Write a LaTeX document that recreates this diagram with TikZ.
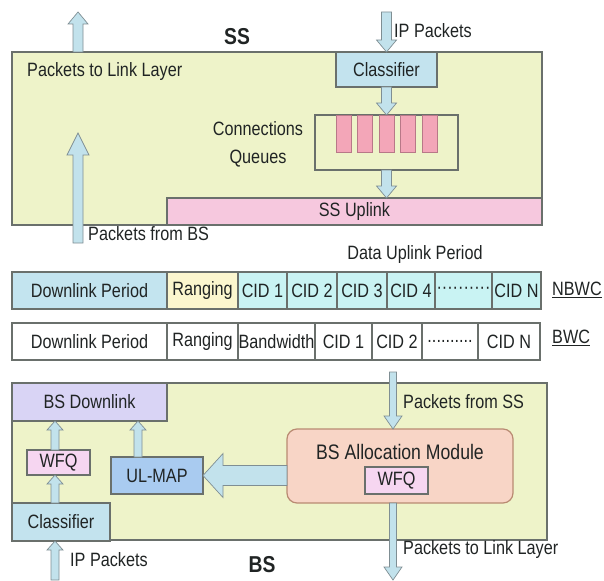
\documentclass[tikz,border=0pt]{standalone}
\usepackage{fontspec}
\setmainfont{Liberation Sans}[FakeStretch=0.84]
\usetikzlibrary{calc}
\definecolor{panel}{HTML}{EEF3C9}
\definecolor{edge}{HTML}{6A706C}
\definecolor{clsblue}{HTML}{C3E3EE}
\definecolor{barpink}{HTML}{F3A6B8}
\definecolor{baredge}{HTML}{B87888}
\definecolor{uppink}{HTML}{F6C8DE}
\definecolor{dlblue}{HTML}{C3E4EF}
\definecolor{rangy}{HTML}{FBF6CE}
\definecolor{cidcyan}{HTML}{C9F3F3}
\definecolor{lav}{HTML}{D9D4F5}
\definecolor{wfqpink}{HTML}{F6D6F1}
\definecolor{ulblue}{HTML}{A9CBF0}
\definecolor{alloc}{HTML}{F8D5C6}
\definecolor{allocedge}{HTML}{B98A72}
\definecolor{arrfill}{HTML}{C2E2EC}
\definecolor{arredge}{HTML}{7F8E93}
\definecolor{txt}{HTML}{202424}
\newcommand\fs{\fontsize{19.3}{22}\selectfont}
\newcommand\bigfs{\fontsize{23}{25}\selectfont\bfseries}
\begin{document}
\begin{tikzpicture}[x=1pt,y=-1pt,font=\fs,text=txt,
  box/.style={draw=edge,line width=1.2pt,inner sep=0pt,outer sep=0pt,anchor=north west},
  lbl/.style={inner sep=0pt,anchor=west},
  fatarr/.style n args={3}{draw=arredge,fill=arrfill,line width=0.7pt,
    to path={
      ($(\tikztostart)!#1!90:(\tikztotarget)$) --
      ($(\tikztotarget)!#3!(\tikztostart)!#1!90:(\tikztotarget)$) --
      ($(\tikztotarget)!#3!(\tikztostart)!#2!90:(\tikztotarget)$) --
      (\tikztotarget) --
      ($(\tikztotarget)!#3!(\tikztostart)!#2!-90:(\tikztotarget)$) --
      ($(\tikztotarget)!#3!(\tikztostart)!#1!-90:(\tikztotarget)$) --
      ($(\tikztostart)!#1!-90:(\tikztotarget)$) -- cycle}},
  arrA/.style={fatarr={5pt}{10pt}{12pt}},
  arrB/.style={fatarr={4pt}{8pt}{9pt}},
  arrC/.style={fatarr={3.5pt}{9pt}{13pt}}]
\useasboundingbox (0,0) rectangle (604,580);

% ---------------- SS panel ----------------
\node[box,fill=panel,minimum width=530,minimum height=173] (ss) at (12,52) {};
\node[box,fill=uppink,minimum width=375,minimum height=27] (ssup) at (167,198) {SS Uplink};
\node[box,fill=clsblue,minimum width=101,minimum height=35] (cls) at (336,52) {Classifier};
\node[box,fill=panel,minimum width=143,minimum height=55] (q) at (315,115) {};
\foreach \i/\x in {1/336,2/357,3/379,4/400,5/422}
  \node[box,draw=baredge,line width=0.8pt,fill=barpink,minimum width=15,minimum height=37] (bar\i) at (\x,115) {};
\node[align=center,inner sep=0pt,font=\fontsize{19.3}{28}\selectfont] (cqt) at (258,144) {Connections\\Queues};
\node[font=\bigfs,inner sep=0pt] (sst) at (237,37) {SS};
\node[lbl] (ipt) at (394,31) {IP Packets};
\node[lbl] (ptl) at (27,72) {Packets to Link Layer};
\node[lbl] (pfb) at (88,234) {Packets from BS};

\coordinate (a1s) at (78,52);
\coordinate (a1e) at (78,12);
\coordinate (a2s) at (78,243);
\coordinate (a2e) at (78,133);
\coordinate (a3s) at (386.5,12);
\coordinate (a5e) at (q.south |- ssup.north);
\draw[arrA] (a1s) to (a1e);
\draw[fatarr={5pt}{11pt}{22pt}] (a2s) to (a2e);
\draw[arrA] (a3s) to (cls.north);
\draw[arrA] (cls.south) to (q.north);
\draw[arrA] (q.south) to (a5e);

% ---------------- frame rows ----------------
\node[inner sep=0pt] (dup) at (415,255) {Data Uplink Period};
\node[box,fill=dlblue,minimum width=155,minimum height=37] (n1) at (12,272) {Downlink Period};
\node[box,fill=rangy,minimum width=71,minimum height=37] (n2) at (167,272) {Ranging};
\node[box,fill=cidcyan,minimum width=49,minimum height=37] (n3) at (238,272) {CID 1};
\node[box,fill=cidcyan,minimum width=50,minimum height=37] (n4) at (287,272) {CID 2};
\node[box,fill=cidcyan,minimum width=50,minimum height=37] (n5) at (337,272) {CID 3};
\node[box,fill=cidcyan,minimum width=48,minimum height=37] (n6) at (387,272) {CID 4};
\node[box,fill=cidcyan,minimum width=57,minimum height=37] (n7) at (435,272) {··········};
\node[box,fill=cidcyan,minimum width=49,minimum height=37] (n8) at (492,272) {CID N};
\node[lbl] (nbwc) at (552,290) {\underline{NBWC}};

\node[box,fill=white,minimum width=155,minimum height=37] (b1) at (12,323) {Downlink Period};
\node[box,fill=white,minimum width=71,minimum height=37] (b2) at (167,323) {Ranging};
\node[box,fill=white,minimum width=77,minimum height=37] (b3) at (238,323) {Bandwidth};
\node[box,fill=white,minimum width=57,minimum height=37] (b4) at (315,323) {CID 1};
\node[box,fill=white,minimum width=50,minimum height=37] (b5) at (372,323) {CID 2};
\node[box,fill=white,minimum width=56,minimum height=37] (b6) at (422,323) {..........};
\node[box,fill=white,minimum width=62,minimum height=37] (b7) at (478,323) {CID N};
\node[lbl] (bwc) at (552,338) {\underline{BWC}};

% ---------------- BS panel ----------------
\node[box,fill=panel,minimum width=535,minimum height=157] (bs) at (12,383) {};
\node[box,fill=lav,minimum width=155,minimum height=38] (bsdl) at (12,383) {BS Downlink};
\node[box,fill=wfqpink,minimum width=63,minimum height=25] (wfq) at (27,450) {WFQ};
\node[box,fill=ulblue,minimum width=92,minimum height=37] (ulmap) at (111,457) {UL-MAP};
\node[box,fill=clsblue,minimum width=98,minimum height=38] (cls2) at (12,503) {Classifier};
\node[box,draw=allocedge,fill=alloc,rounded corners=10pt,minimum width=226,minimum height=74] (alloc) at (287,429) {};
\node[inner sep=0pt,font=\fontsize{21}{24}\selectfont] (allt) at (400,452) {BS Allocation Module};
\node[box,fill=wfqpink,minimum width=63,minimum height=27] (wfq2) at (365,467) {WFQ};
\node[lbl] (pfs) at (403,402) {Packets from SS};
\node[lbl] (ptl2) at (403,550) {Packets to Link Layer};
\node[lbl] (ipt2) at (70,560) {IP Packets};
\node[font=\bigfs,inner sep=0pt] (bst) at (262,565) {BS};

\coordinate (a6s) at (393,372);
\coordinate (a6e) at (393,429);
\coordinate (a7s) at (393,503);
\coordinate (a7e) at (393,580);
\coordinate (a8s) at (55,503);
\coordinate (a8e) at (55,475);
\coordinate (a9s) at (55,450);
\coordinate (a9e) at (55,421);
\coordinate (a10s) at (138,457);
\coordinate (a10e) at (138,421);
\coordinate (a11s) at (55,580);
\coordinate (a11e) at (55,541);
\coordinate (a12s) at (alloc.west |- ulmap.east);
\draw[arrC] (a6s) to (a6e);
\draw[arrC] (a7s) to (a7e);
\draw[arrB] (a8s) to (a8e);
\draw[arrB] (a9s) to (a9e);
\draw[arrB] (a10s) to (a10e);
\draw[arrB] (a11s) to (a11e);
\draw[fatarr={10pt}{22pt}{20pt}] (a12s) to (ulmap.east);
\end{tikzpicture}
\end{document}
